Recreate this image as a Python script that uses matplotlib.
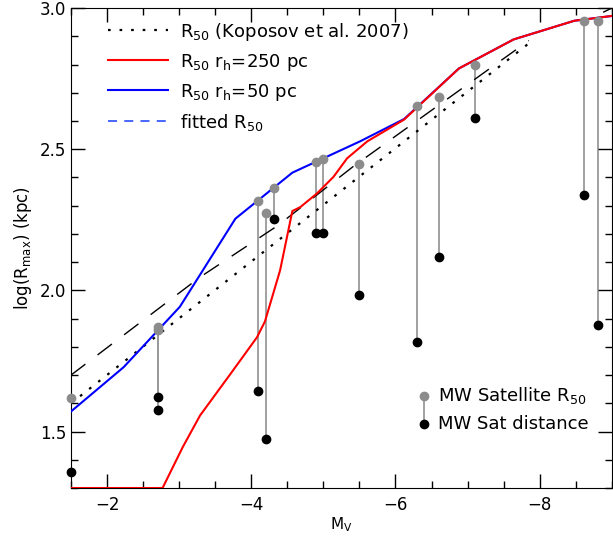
import numpy as np
import matplotlib
matplotlib.use("Agg")
import matplotlib.pyplot as plt
from matplotlib.ticker import MultipleLocator

# Koposov et al. 2007 relation (dotted)
kop_mv = [-1.5, -7.85]
kop_r = [1.60, 2.875]

# fitted R50 (dashed)
fit_mv = [-1.5, -3.29, -4.37, -5.42, -7.85, np.nan, -8.88, -9.0]
fit_r = [1.70, 2.047, 2.23, 2.44, 2.885, np.nan, 2.985, 3.0]

# R50 for r_h = 50 pc (blue)
blue_mv = [-1.5, -2.23, -3.01, -3.78, -4.57, -5.51, -6.12, -6.88, -7.64, -8.48, -9.0]
blue_r = [1.571, 1.728, 1.942, 2.254, 2.417, 2.528, 2.607, 2.786, 2.889, 2.955, 2.972]

# R50 for r_h = 250 pc (red)
red_mv = [-1.5, -2.77, -3.05, -3.29, -3.70, -4.08, -4.19, -4.40, -4.57, -4.68, -4.91,
          -5.14, -5.33, -5.61, -6.12, -6.88, -7.64, -8.48, -9.0]
red_r = [1.30, 1.30, 1.445, 1.557, 1.70, 1.834, 1.890, 2.071, 2.281, 2.295, 2.343,
         2.402, 2.468, 2.528, 2.605, 2.786, 2.889, 2.955, 2.972]

# MW satellites: magnitude, R50 and distance
sat_mv = [-1.5, -2.7, -2.7, -4.10, -4.20, -4.31, -4.90, -5.00, -5.50, -6.30, -6.61, -7.11, -8.62, -8.81]
sat_r50 = [1.618, 1.870, 1.860, 2.317, 2.274, 2.363, 2.455, 2.465, 2.447, 2.652, 2.684, 2.800, 2.955, 2.955]
sat_dist = [1.358, 1.621, 1.578, 1.642, 1.474, 2.254, 2.203, 2.203, 1.985, 1.816, 2.119, 2.609, 2.337, 1.879]

fig = plt.figure(figsize=(6.13, 5.37), dpi=100)
ax = fig.add_axes([0.1158, 0.0912, 0.8822, 0.8938])

for m, r1, r2 in zip(sat_mv, sat_r50, sat_dist):
    ax.plot([m, m], [r2, r1], color='#9a9a9a', lw=1.3, zorder=1)
ax.plot(sat_mv, sat_dist, 'o', color='black', ms=6, zorder=4, clip_on=False)
ax.plot(sat_mv, sat_r50, 'o', color='#8c8c8c', ms=6, zorder=4, clip_on=False)

ax.plot(kop_mv, kop_r, color='black', ls=(0, (1.2, 4)), lw=1.6, zorder=2)
ax.plot(fit_mv, fit_r, color='black', ls=(0, (13, 11)), lw=1.0, zorder=2)
ax.plot(blue_mv, blue_r, color='blue', lw=1.5, zorder=3)
ax.plot(red_mv, red_r, color='red', lw=1.5, zorder=3)

# legend handles
h1, = ax.plot([], [], color='black', ls=(0, (1.2, 4)), lw=1.6)
h2, = ax.plot([], [], color='red', lw=1.5)
h3, = ax.plot([], [], color='blue', lw=1.5)
h4, = ax.plot([], [], color='#3a5bff', ls=(0, (5, 4)), lw=1.3)
ax.legend([h1, h2, h3, h4],
          [r'R$_{50}$ (Koposov et al. 2007)', r'R$_{50}$ r$_{\rm h}$=250 pc',
           r'R$_{50}$ r$_{\rm h}$=50 pc', r'fitted R$_{50}$'],
          loc='upper left', frameon=False, fontsize=13, handlelength=3.3,
          handletextpad=0.7, labelspacing=0.5, borderaxespad=0.3,
          bbox_to_anchor=(0.045, 1.0))

# satellite key
ax.plot([0.653, 0.653], [0.133, 0.192], color='#9a9a9a', lw=1.3, transform=ax.transAxes)
ax.plot([0.653], [0.192], 'o', color='#8c8c8c', ms=6, transform=ax.transAxes)
ax.plot([0.653], [0.133], 'o', color='black', ms=6, transform=ax.transAxes)
ax.text(0.679, 0.192, r'MW Satellite R$_{50}$', transform=ax.transAxes,
        fontsize=13, va='center')
ax.text(0.679, 0.133, 'MW Sat distance', transform=ax.transAxes,
        fontsize=13, va='center')

ax.set_xlim(-1.5, -9.0)
ax.set_ylim(1.3, 3.0)
ax.xaxis.set_major_locator(MultipleLocator(2))
ax.xaxis.set_minor_locator(MultipleLocator(0.5))
ax.yaxis.set_major_locator(MultipleLocator(0.5))
ax.yaxis.set_minor_locator(MultipleLocator(0.1))
ax.tick_params(which='both', direction='in', top=True, right=True, labelsize=12)
ax.tick_params(which='major', length=10, width=1)
ax.tick_params(which='minor', length=5, width=1)
ax.tick_params(axis='x', pad=6)
ax.set_xlabel(r'M$_{\rm V}$', fontsize=11, labelpad=1)
ax.set_ylabel(r'log(R$_{\rm max}$) (kpc)', fontsize=12)

fig.savefig('out.png', dpi=100)
